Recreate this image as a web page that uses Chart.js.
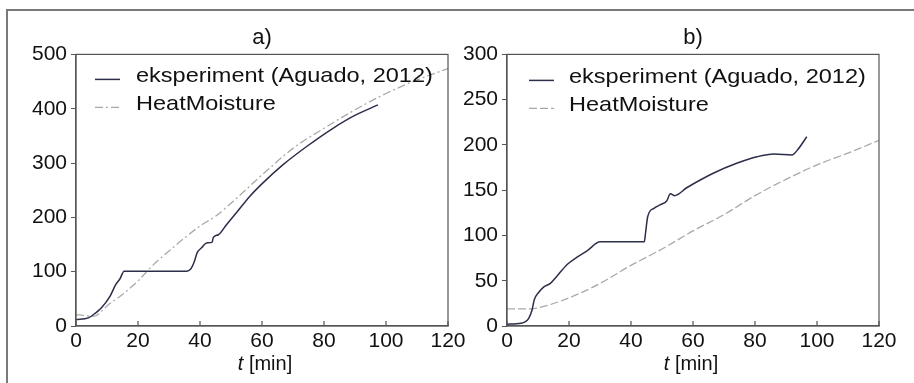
<!DOCTYPE html>
<html>
<head>
<meta charset="utf-8">
<script src="https://cdn.jsdelivr.net/npm/chart.js@4.4.0/dist/chart.umd.min.js"></script>
<style>
  html, body { margin: 0; padding: 0; background: #fff; }
  body { width: 914px; height: 383px; position: relative; overflow: hidden; }
  #frame { position: absolute; left: 6px; top: 9px; width: 1000px; height: 500px;
           border-left: 2px solid #7a7a7a; border-top: 2px solid #7a7a7a; }
  .panel { position: absolute; top: 0; height: 383px; }
  #boxA { left: 0; width: 480px; }
  #boxB { left: 454px; width: 460px; }
</style>
</head>
<body>
<div id="frame"></div>
<div class="panel" id="boxA"><canvas id="chartA"></canvas></div>
<div class="panel" id="boxB"><canvas id="chartB"></canvas></div>
<script>
// panel a) - experiment
const expTimeA = [0, 4, 6.1, 8.3, 11, 12.8, 14.2, 15.5, 35.7, 37, 38, 39.1, 40.5, 42.1, 43.9, 44.3, 45.9, 48.6, 51.8, 56.1, 60.4, 66.8, 74.3, 82.9, 90.4, 97.4];
const expValA  = [12, 15, 23, 34, 55, 76, 87, 101, 101, 105, 116, 135, 144, 153, 154, 163, 168, 187, 209, 239, 264, 297, 330, 364, 389, 407];
// panel a) - HeatMoisture
const simTimeA = [0, 3, 6, 8, 10, 15, 20, 25, 30, 35, 40, 45, 50, 60, 70, 80, 90, 100, 110, 120];
const simValA  = [21, 19, 18, 26, 37, 58, 83, 113, 138, 162, 184, 202, 226, 278, 327, 364, 398, 428, 453, 474];

// panel b) - experiment
const expTimeB = [0, 4.5, 7, 8.1, 8.8, 10.2, 11.8, 14, 16.1, 19.4, 22.6, 25.8, 30.1, 44.3, 44.7, 45.4, 47.4, 49.5, 51.5, 52.7, 54, 58.1, 66.7, 74.3, 80.7, 86.1, 92, 93.6, 96.7];
const expValB  = [2, 3, 8.5, 18, 29, 37, 43, 47, 55, 68, 76, 83, 93, 93, 103, 121, 130, 134, 138, 146, 144, 153, 169, 180, 187, 190, 189, 194, 209];
// panel b) - HeatMoisture
const simTimeB = [0, 8, 10, 20, 30, 40, 50, 60, 70, 80, 90, 100, 110, 120];
const simValB  = [19, 19, 20, 31, 47, 67, 85, 105, 123, 144, 162, 178, 191, 205];

const seriesLabels = ["eksperiment (Aguado, 2012)", "HeatMoisture"];
const xTicksMax = 120;

const FONT = '"Liberation Sans", Arial, Helvetica, sans-serif';
const TEXT = "#111";
const AXIS = "#555";

function toPoints(xs, ys) {
  return xs.map((x, i) => ({ x: x, y: ys[i] }));
}

// frame, inward x ticks, legend and x title
const panelPlugin = {
  id: "panel",
  afterDraw(chart, args, o) {
    const { ctx, chartArea: a, scales } = chart;
    ctx.save();
    ctx.strokeStyle = AXIS;
    ctx.lineWidth = 1.2;
    ctx.strokeRect(a.left, a.top, a.right - a.left, a.bottom - a.top);

    scales.x.ticks.forEach((t) => {
      const px = scales.x.getPixelForValue(t.value);
      ctx.beginPath();
      ctx.moveTo(px, a.bottom);
      ctx.lineTo(px, a.bottom - 5);
      ctx.stroke();
    });

    chart.data.datasets.forEach((ds, i) => {
      const y = a.top + o.legendTop + i * 28;
      ctx.strokeStyle = ds.borderColor;
      ctx.lineWidth = ds.borderWidth;
      ctx.setLineDash(ds.borderDash || []);
      ctx.beginPath();
      ctx.moveTo(a.left + o.sampleStart, y);
      ctx.lineTo(a.left + o.sampleStart + 25, y);
      ctx.stroke();
      ctx.setLineDash([]);

      ctx.fillStyle = TEXT;
      ctx.textBaseline = "middle";
      ctx.textAlign = "left";
      ctx.font = "21px " + FONT;
      ctx.save();
      ctx.translate(a.left + o.textStart, y - 3);
      ctx.scale(1.12, 1);
      ctx.fillText(ds.label, 0, 0);
      ctx.restore();
    });

    // x axis title: italic t + [min]
    ctx.fillStyle = TEXT;
    ctx.textBaseline = "middle";
    ctx.textAlign = "left";
    const italic = "italic 20px " + FONT;
    const normal = "20px " + FONT;
    ctx.font = italic;
    const w1 = ctx.measureText("t").width;
    ctx.font = normal;
    const w2 = ctx.measureText(" [min]").width;
    const cx = (a.left + a.right) / 2 + o.titleShift;
    const x0 = cx - (w1 + w2) / 2;
    ctx.font = italic;
    ctx.fillText("t", x0, 364);
    ctx.font = normal;
    ctx.fillText(" [min]", x0 + w1, 364);
    ctx.restore();
  }
};

function makePanel(id, cfg) {
  return new Chart(document.getElementById(id), {
    type: "line",
    data: {
      datasets: [
        {
          label: seriesLabels[0],
          data: toPoints(cfg.expTime, cfg.expVal),
          borderColor: "#2c2e4a",
          borderWidth: 1.5,
          pointRadius: 0,
          cubicInterpolationMode: "monotone",
          fill: false
        },
        {
          label: seriesLabels[1],
          data: toPoints(cfg.simTime, cfg.simVal),
          borderColor: "#a9a9a9",
          borderWidth: 1.3,
          borderDash: cfg.dash,
          pointRadius: 0,
          cubicInterpolationMode: "monotone",
          fill: false
        }
      ]
    },
    options: {
      responsive: true,
      maintainAspectRatio: false,
      animation: false,
      layout: { padding: { left: 0, right: cfg.padRight, top: 0, bottom: 0 } },
      scales: {
        x: {
          type: "linear",
          min: 0,
          max: xTicksMax,
          ticks: { stepSize: 20, padding: 3, color: TEXT, font: { family: FONT, size: 21 } },
          grid: { drawOnChartArea: false, drawTicks: false },
          border: { color: AXIS, width: 1.2 },
          afterFit(scale) { scale.height = 57; }
        },
        y: {
          type: "linear",
          min: 0,
          max: cfg.yMax,
          ticks: { stepSize: cfg.yStep, padding: 4, color: TEXT, font: { family: FONT, size: 21 } },
          grid: { drawOnChartArea: false, drawTicks: true, tickLength: 5, color: AXIS },
          border: { color: AXIS, width: 1.2 },
          afterFit(scale) { scale.width = cfg.axisWidth; }
        }
      },
      plugins: {
        legend: { display: false },
        tooltip: { enabled: false },
        title: {
          display: true,
          text: cfg.title,
          fullSize: false,
          color: TEXT,
          font: { family: FONT, size: 22, weight: "normal" },
          padding: { top: 25, bottom: 3 }
        },
        panel: cfg.panel
      }
    },
    plugins: [panelPlugin]
  });
}

makePanel("chartA", {
  title: "a)",
  expTime: expTimeA, expVal: expValA,
  simTime: simTimeA, simVal: simValA,
  dash: [8, 3, 2, 3],
  yMax: 500, yStep: 100,
  axisWidth: 76, padRight: 32,
  panel: { legendTop: 25, sampleStart: 19, textStart: 60, titleShift: 3 }
});

makePanel("chartB", {
  title: "b)",
  expTime: expTimeB, expVal: expValB,
  simTime: simTimeB, simVal: simValB,
  dash: [8, 3],
  yMax: 300, yStep: 50,
  axisWidth: 53, padRight: 35,
  panel: { legendTop: 26, sampleStart: 22, textStart: 62, titleShift: -2 }
});
</script>
</body>
</html>
